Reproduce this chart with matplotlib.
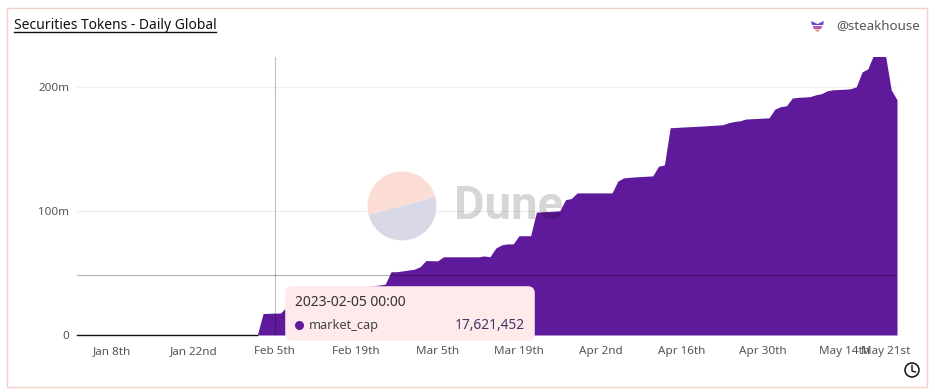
import matplotlib
matplotlib.use('Agg')
import matplotlib.pyplot as plt
import numpy as np
from datetime import datetime
from matplotlib.patches import Circle, FancyBboxPatch, Polygon, Rectangle, Wedge

plt.rcParams['font.family'] = ['Noto Sans', 'DejaVu Sans']

# market cap in millions
dates = ['2023-01-02', '2023-02-02', '2023-02-03', '2023-02-05', '2023-02-06', '2023-02-07',
         '2023-02-08', '2023-02-19', '2023-02-23', '2023-02-24', '2023-02-25', '2023-02-26', '2023-03-01',
         '2023-03-02', '2023-03-03', '2023-03-05', '2023-03-06', '2023-03-12', '2023-03-13', '2023-03-14',
         '2023-03-15', '2023-03-16', '2023-03-17', '2023-03-18', '2023-03-19', '2023-03-21', '2023-03-22',
         '2023-03-26', '2023-03-27', '2023-03-28', '2023-03-29', '2023-04-04', '2023-04-05', '2023-04-06',
         '2023-04-08', '2023-04-11', '2023-04-12', '2023-04-13', '2023-04-14', '2023-04-20', '2023-04-23',
         '2023-04-24', '2023-04-25', '2023-04-26', '2023-04-27', '2023-05-01', '2023-05-02', '2023-05-03',
         '2023-05-04', '2023-05-05', '2023-05-06', '2023-05-08', '2023-05-09', '2023-05-10', '2023-05-11',
         '2023-05-12', '2023-05-14', '2023-05-15', '2023-05-16', '2023-05-17', '2023-05-18', '2023-05-19',
         '2023-05-20', '2023-05-21', '2023-05-22', '2023-05-23']
market_cap = [0, 0, 17.3, 17.62, 17.7, 22.6,
              26, 38, 40.3, 41, 51, 51, 53,
              55, 60, 59.7, 63, 63, 63.7, 63,
              70, 72.6, 73.4, 73.4, 80, 80, 99,
              100, 109, 110, 114.5, 114.5, 124, 126.6,
              127.4, 128.2, 136, 137, 167, 168.5, 169.4,
              171, 172, 172.6, 174, 175, 182, 184,
              184.7, 191, 191.5, 192, 193.5, 194.4, 196.8,
              197.6, 198, 198.4, 200, 212, 214.5, 226,
              226, 226, 197.6, 189.5]
tick_dates = ['2023-01-08', '2023-01-22', '2023-02-05', '2023-02-19', '2023-03-05', '2023-03-19',
              '2023-04-02', '2023-04-16', '2023-04-30', '2023-05-14', '2023-05-21']
tick_labels = ['Jan 8th', 'Jan 22nd', 'Feb 5th', 'Feb 19th', 'Mar 5th', 'Mar 19th',
               'Apr 2nd', 'Apr 16th', 'Apr 30th', 'May 14th', 'May 21st']
y_ticks = [0, 100, 200]
y_labels = ['0', '100m', '200m']

W, H = 935, 392
purple = '#5f1a9b'
x = [datetime.strptime(d, '%Y-%m-%d') for d in dates]
x_ticks = [datetime.strptime(d, '%Y-%m-%d') for d in tick_dates]

fig = plt.figure(figsize=(W / 100, H / 100), dpi=100, facecolor='white')

# plot area 77..897 x 57..335 in pixels
ax = fig.add_axes([77 / W, 1 - 335 / H, 820 / W, 278 / H])
ax.fill_between(x, market_cap, 0, color=purple, lw=0, zorder=2)
ax.plot(x[:2], market_cap[:2], color='#111111', lw=1, clip_on=False, zorder=3)
ax.set_xlim(x[0], x[-1])
ax.set_ylim(0, 224)
for s in ax.spines.values():
    s.set_visible(False)
ax.set_yticks(y_ticks, y_labels)
ax.set_xticks(x_ticks, tick_labels)
ax.tick_params(length=0, labelsize=8.4, labelcolor='#555555')
ax.tick_params(axis='x', pad=8)
ax.tick_params(axis='y', pad=5.5)
ax.grid(axis='y', color='#eeeeee', lw=0.8)
ax.set_axisbelow(True)
ax.patch.set_alpha(0)

# crosshair from the hover
ax.axvline(datetime(2023, 2, 5), color='#000000', alpha=0.25, lw=0.8, zorder=4)
ax.axhline(48.4, color='#000000', alpha=0.3, lw=0.8, zorder=4)

# overlay in pixel coordinates for the card, watermark and tooltip
ov = fig.add_axes([0, 0, 1, 1])
ov.set_xlim(0, W)
ov.set_ylim(H, 0)
ov.axis('off')
ov.patch.set_alpha(0)

ov.add_patch(Rectangle((7, 7.5), 920, 379, fill=False, ec='#f2cfc8', lw=1))

ov.text(14, 25.5, 'Securities Tokens - Daily Global', fontsize=10, color='#111111', va='center', ha='left')
ov.plot([14, 216], [32, 32], color='#111111', lw=1)
ov.text(920, 25.5, '@steakhouse', fontsize=9.6, color='#555555', va='center', ha='right')

# steakhouse logo
ov.add_patch(Polygon([[811, 21], [817.5, 24], [824, 21], [823, 25], [812, 25]], color='#6b3fd0', lw=0))
ov.add_patch(Polygon([[812.5, 26], [822.5, 26], [821, 29], [814, 29]], color='#b05ac0', lw=0))
ov.add_patch(Polygon([[814.5, 29.5], [820.5, 29.5], [817.5, 32]], color='#e8906a', lw=0))

# Dune watermark
ang = np.degrees(np.arctan2(224 - 207, 436 - 373))
ov.add_patch(Wedge((402, 206), 34.5, 180 - ang, 360 - ang, color='#fbddd6', lw=0))
ov.add_patch(Wedge((402, 206), 34.5, -ang, 180 - ang, color='#d8d8e6', lw=0))
ov.text(454, 206, 'Dune', fontsize=34, family='Roboto', fontweight='bold', color='black', alpha=0.16,
        va='center', ha='left')

# tooltip
ov.add_patch(FancyBboxPatch((288, 289), 244, 49, boxstyle='round,pad=0,rounding_size=4',
                            mutation_aspect=1, fc='#feeaea', ec='#feeaea', lw=4, joinstyle='round'))
ov.text(295, 302.5, '2023-02-05 00:00', fontsize=10, color='#333333', va='center')
ov.add_patch(Circle((299.5, 325.5), 4.5, color=purple, lw=0))
ov.text(309, 325.5, 'market_cap', fontsize=9.2, color='#444444', va='center')
ov.text(525, 325.5, '17,621,452', fontsize=9.9, color='#3f3566', va='center', ha='right')

# clock icon
ov.add_patch(Circle((912, 370), 7, fill=False, ec='#111111', lw=1.1))
ov.plot([912, 912, 915.5], [365.5, 371, 372], color='#111111', lw=1)

fig.savefig('out.png', dpi=100)
